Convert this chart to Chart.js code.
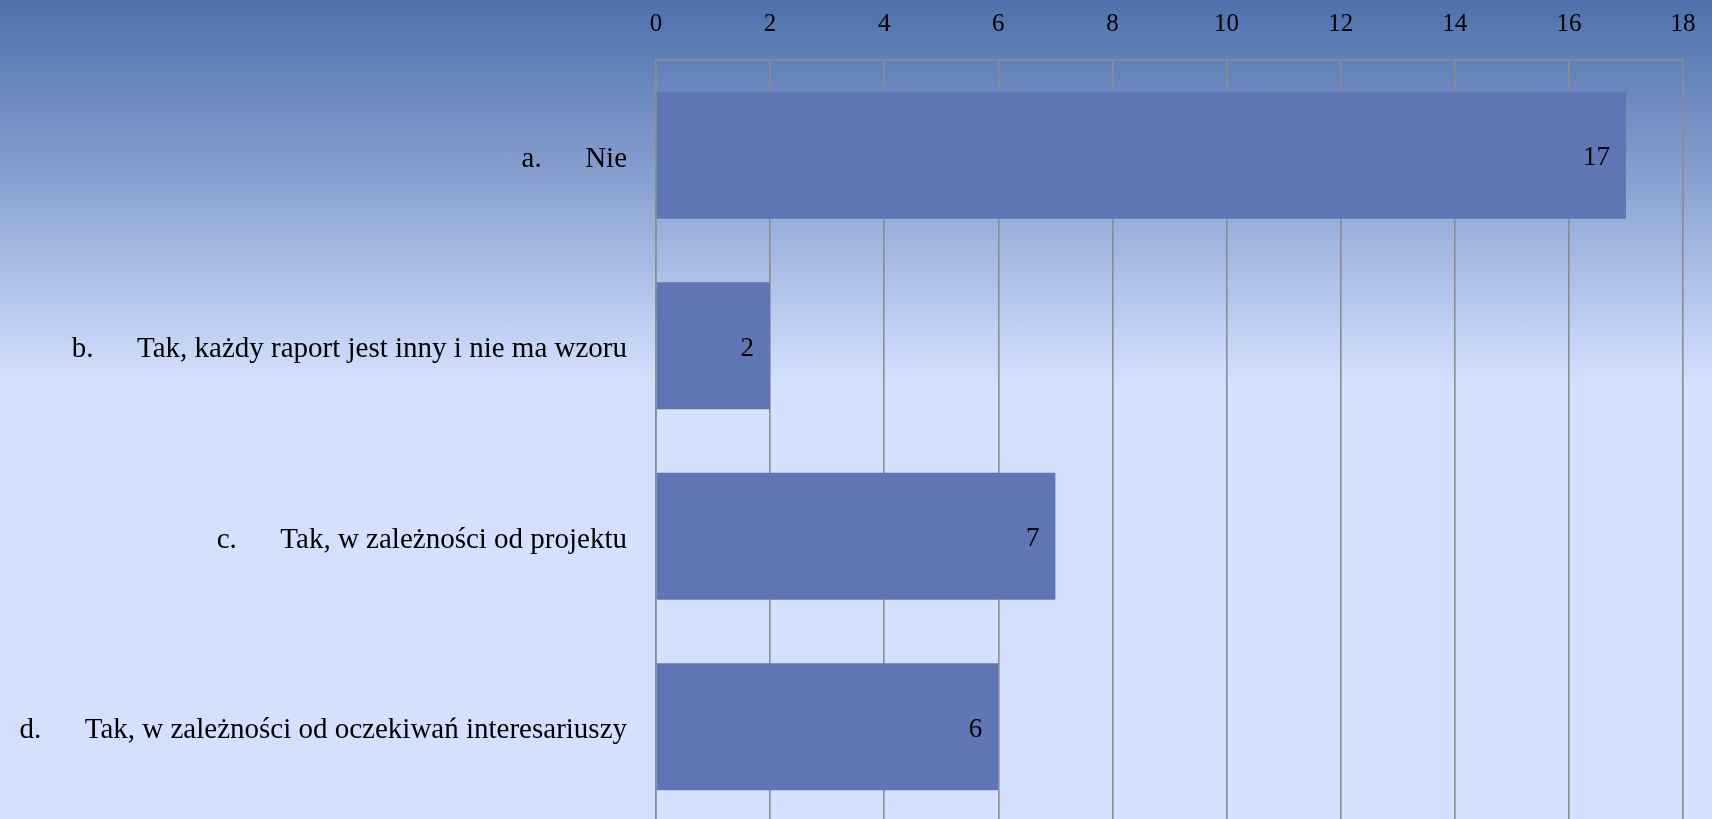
<!DOCTYPE html>
<html>
<head>
<meta charset="utf-8">
<script src="https://cdn.jsdelivr.net/npm/chart.js@4/dist/chart.umd.min.js"></script>
<style>
    html, body {
        margin: 0;
        padding: 0;
        width: 1712px;
        height: 819px;
        overflow: hidden;
    }
    body {
        background: linear-gradient(to bottom, #4e71ac 0%, #7d97c9 18%, #b0c2ea 35%, #d5e0fe 47%, #d5e0fe 100%);
    }
    canvas {
        display: block;
    }
</style>
</head>
<body>
<canvas id="chart" width="1712" height="822"></canvas>
<script>
"use strict";

// answers (letter + text) and how many picked each
const letters = ['a.', 'b.', 'c.', 'd.'];
const answers = [
    'Nie',
    'Tak, każdy raport jest inny i nie ma wzoru',
    'Tak, w zależności od projektu',
    'Tak, w zależności od oczekiwań interesariuszy'
];
const counts = [17, 2, 7, 6];
const axisMax = 18;
const axisStep = 2;

const FONT = '"Liberation Serif", "DejaVu Serif", serif';
const gridColor = '#8c8c8c';

const labels = letters.map((l, i) => l + '\u2002\u2002\u2002' + answers[i]);

// values written inside the bar end
const barValues = {
    id: 'barValues',
    afterDatasetsDraw(chart) {
        const {ctx} = chart;
        const meta = chart.getDatasetMeta(0);
        ctx.save();
        ctx.font = '27px ' + FONT;
        ctx.fillStyle = '#000';
        ctx.textAlign = 'right';
        ctx.textBaseline = 'middle';
        meta.data.forEach((bar, i) => {
            ctx.fillText(String(counts[i]), bar.x - 16, bar.y + 3);
        });
        ctx.restore();
    }
};

new Chart(document.getElementById('chart'), {
    type: 'bar',
    data: {
        labels: labels,
        datasets: [{
            data: counts,
            backgroundColor: '#6075b3',
            borderWidth: 0,
            barPercentage: 0.667,
            categoryPercentage: 1
        }]
    },
    options: {
        indexAxis: 'y',
        responsive: false,
        animation: false,
        layout: {padding: {left: 0, right: 29, top: 0, bottom: 0}},
        plugins: {
            legend: {display: false},
            tooltip: {enabled: false}
        },
        scales: {
            x: {
                position: 'top',
                min: 0,
                max: axisMax,
                afterFit(scale) {
                    scale.height = 60;
                    scale.paddingLeft = 0;
                    scale.paddingRight = 0;
                },
                ticks: {
                    stepSize: axisStep,
                    color: '#000',
                    padding: 21,
                    font: {family: FONT, size: 25}
                },
                grid: {
                    color: gridColor,
                    lineWidth: 1.6,
                    drawTicks: false
                },
                border: {color: gridColor, width: 1.6}
            },
            y: {
                afterFit(scale) {
                    scale.width = 656;
                    scale.paddingTop = 0;
                    scale.paddingBottom = 0;
                },
                ticks: {
                    color: '#000',
                    padding: 29,
                    labelOffset: 4,
                    font: {family: FONT, size: 29}
                },
                grid: {display: false, drawTicks: false},
                border: {color: gridColor, width: 1.6}
            }
        }
    },
    plugins: [barValues]
});
</script>
</body>
</html>
